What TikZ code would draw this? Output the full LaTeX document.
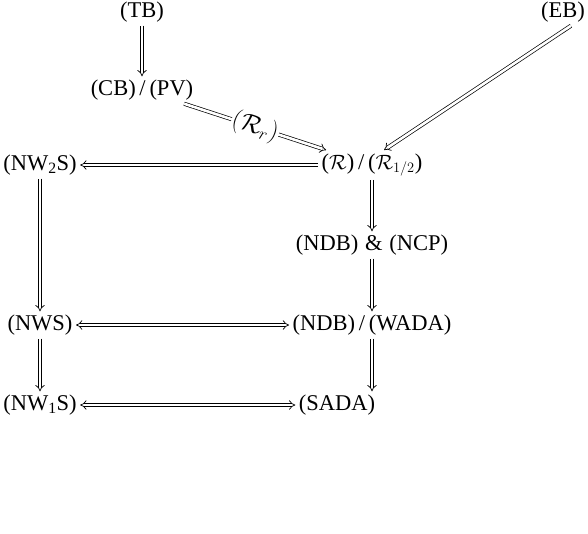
\documentclass[tikz,border=0pt]{standalone}
\usepackage{fontspec}
\setmainfont{Liberation Serif}
\usetikzlibrary{arrows.meta}

\begin{document}
\begin{tikzpicture}[x=1pt,y=-1pt,font=\fontsize{22.5}{27}\selectfont,
	imp/.style={double,double distance=2.6pt,line width=0.7pt,-{Implies}},
	iff/.style={imp,{Implies}-{Implies}}]
	\useasboundingbox (0,0) rectangle (588,533);
	
	%top
	\node (tb)   at (142,12) {(TB)};
	\node (eb)   at (563,12) {(EB)};
	\node (cbpv) at (142,90) {(CB)\,/\,(PV)};
	
	%left column
	\node (nwtwo) at (40,165) {(NW\textsubscript{2}S)};
	\node (nws)   at (40,325) {(NWS)};
	\node (nwone) at (40,405) {(NW\textsubscript{1}S)};
	
	%right column
	\node (rr)      at (372,165) {($\mathcal{R}$)\,/\,($\mathcal{R}_{1/2}$)};
	\node (ndbncp)  at (372,245) {(NDB)\hspace{0.3em}\&\hspace{0.3em}(NCP)};
	\node (ndbwada) at (372,325) {(NDB)\,/\,(WADA)};
	\node (sada)    at (337,405) {(SADA)};
	
	%arrows
	\draw[imp] (tb) -- (cbpv);
	\draw[imp] (cbpv) -- node[sloped,fill=white,inner sep=1pt,font=\fontsize{24}{29}\selectfont] {$(\mathcal{R}_r)$} (rr);
	\draw[imp] (eb.300) -- ([xshift=12pt]rr.north);
	\draw[imp] (rr) -- (nwtwo);
	\draw[imp] (rr) -- (ndbncp);
	\draw[imp] (ndbncp) -- (ndbwada);
	\draw[imp] (ndbwada) -- (sada.north -| ndbwada.south);
	\draw[imp] (nwtwo) -- (nws);
	\draw[imp] (nws) -- (nwone);
	\draw[iff] (nws) -- (ndbwada);
	\draw[iff] (nwone) -- (sada);
\end{tikzpicture}
\end{document}
